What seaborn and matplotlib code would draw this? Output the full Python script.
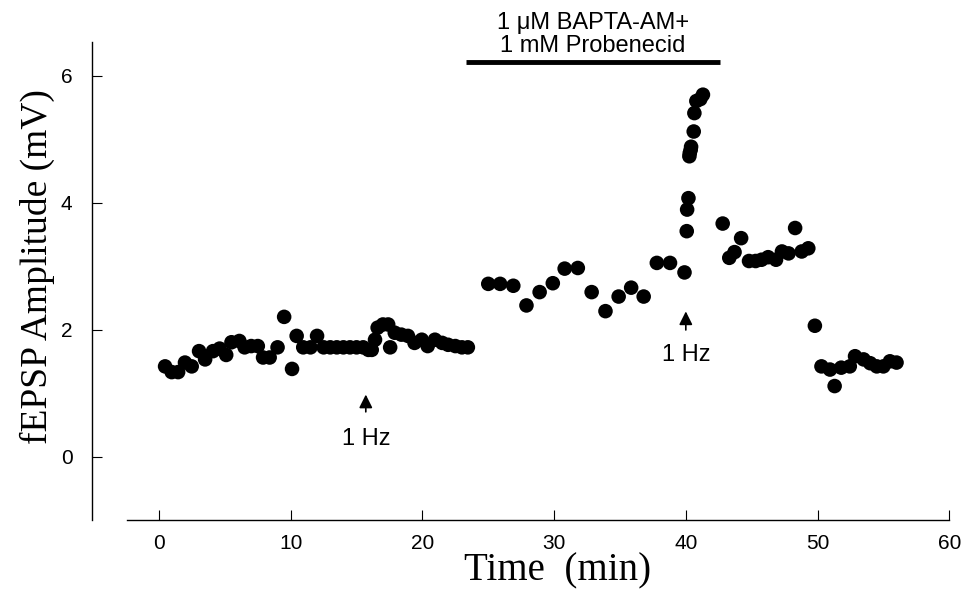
import matplotlib
matplotlib.use("Agg")
import matplotlib.pyplot as plt
import seaborn as sns
import pandas as pd

# Data
time_min = [0.46, 0.96, 1.45, 1.97, 2.48, 3.04, 3.5, 4.1, 4.6, 5.1, 5.5, 6.1, 6.5, 7.0, 7.5,
            7.9, 8.4, 9.0, 9.5, 10.1, 10.45, 10.95, 11.5, 12.0, 12.5, 13.0, 13.5, 14.0, 14.5,
            15.0, 15.5, 15.9, 16.15, 16.4, 16.6, 17.0, 17.4, 17.55, 17.9, 18.4, 18.9, 19.4,
            19.95, 20.4, 20.95, 21.5, 21.95, 22.5, 23.0, 23.45,
            25.0, 25.9, 26.9, 27.9, 28.9, 29.9, 30.8, 31.8, 32.85, 33.9, 34.9, 35.85, 36.8,
            37.8, 38.8, 39.9,
            40.07, 40.1, 40.2, 40.27, 40.3, 40.37, 40.4, 40.6, 40.65, 40.8, 41.1, 41.3,
            42.8, 43.3, 43.7, 44.2, 44.8, 45.3, 45.75, 46.25, 46.85, 47.3, 47.8, 48.3, 48.8,
            49.3, 49.8, 50.3, 50.95, 51.3, 51.8, 52.45, 52.85, 53.5, 54.0, 54.5, 55.0, 55.5,
            56.0]
amplitude_mv = [1.42, 1.33, 1.33, 1.48, 1.42, 1.66, 1.53, 1.66, 1.70, 1.60, 1.80, 1.82, 1.72,
                1.74, 1.74, 1.56, 1.56, 1.72, 2.20, 1.38, 1.90, 1.72, 1.72, 1.90, 1.72, 1.72,
                1.72, 1.72, 1.72, 1.72, 1.72, 1.68, 1.68, 1.84, 2.03, 2.08, 2.08, 1.72, 1.95,
                1.92, 1.90, 1.79, 1.84, 1.74, 1.84, 1.79, 1.76, 1.74, 1.72, 1.72,
                2.72, 2.72, 2.69, 2.38, 2.59, 2.73, 2.96, 2.97, 2.59, 2.29, 2.52, 2.66, 2.52,
                3.05, 3.05, 2.90,
                3.55, 3.89, 4.07, 4.73, 4.78, 4.83, 4.88, 5.12, 5.41, 5.60, 5.63, 5.70,
                3.67, 3.13, 3.22, 3.44, 3.08, 3.08, 3.10, 3.14, 3.10, 3.23, 3.20, 3.60, 3.23,
                3.28, 2.06, 1.42, 1.37, 1.11, 1.40, 1.42, 1.58, 1.53, 1.47, 1.42, 1.42, 1.50,
                1.48]

x_ticks = [0, 10, 20, 30, 40, 50, 60]
y_ticks = [0, 2, 4, 6]

drug_bar = [23.3, 42.6]
drug_label = "1 \u03bcM BAPTA-AM+\n1 mM Probenecid"
stim_times = [15.7, 40.0]
stim_label = "1 Hz"

df = pd.DataFrame({"Time": time_min, "Amp": amplitude_mv})

sns.set_theme(style="white")
plt.rcParams["font.family"] = ["Liberation Sans", "DejaVu Sans"]

fig = plt.figure(figsize=(9.65, 5.89), dpi=100)
W, H = 965, 589
ax = fig.add_axes([92 / W, (H - 520) / H, 863 / W, 478 / H])

sns.scatterplot(data=df, x="Time", y="Amp", ax=ax, color="black", s=110,
                edgecolor="none", linewidth=0, legend=False)

ax.set_xlim(-5.09, 60.44)
ax.set_ylim(-1.0, 6.53)
ax.set_xticks(x_ticks)
ax.set_yticks(y_ticks)
ax.tick_params(axis="both", which="major", bottom=True, left=True, direction="in",
               length=7, width=0.8, color="black", labelsize=15, labelcolor="black")
ax.tick_params(axis="x", pad=10)
ax.tick_params(axis="y", pad=14)
for side in ["top", "right"]:
    ax.spines[side].set_visible(False)
for side in ["left", "bottom"]:
    ax.spines[side].set_color("black")
    ax.spines[side].set_linewidth(1.0)
ax.spines["bottom"].set_bounds(-2.4, 60.0)
ax.spines["left"].set_bounds(-1.0, 6.53)

ax.set_xlabel("Time  (min)", family=["Liberation Serif", "DejaVu Serif"], fontsize=28,
              color="black", labelpad=0)
ax.xaxis.label.set_x(0.54)
ax.set_ylabel("fEPSP Amplitude (mV)", family=["Liberation Serif", "DejaVu Serif"],
              fontsize=27, color="black", labelpad=4)
ax.yaxis.label.set_y(0.53)

# Drug application bar
ax.plot(drug_bar, [6.22, 6.22], color="black", linewidth=3.5, solid_capstyle="butt",
        clip_on=False)
ax.text(sum(drug_bar) / 2, 6.30, drug_label, ha="center", va="bottom", fontsize=17,
        color="black", linespacing=1.05, clip_on=False)

# Stimulation arrows
ax.annotate("", xy=(stim_times[0], 1.02), xytext=(stim_times[0], 0.66),
            arrowprops=dict(arrowstyle="-|>", color="black", lw=1.2, mutation_scale=20))
ax.text(stim_times[0], 0.27, stim_label, ha="center", va="center", fontsize=17, color="black")
ax.annotate("", xy=(stim_times[1], 2.33), xytext=(stim_times[1], 1.95),
            arrowprops=dict(arrowstyle="-|>", color="black", lw=1.2, mutation_scale=20))
ax.text(stim_times[1], 1.6, stim_label, ha="center", va="center", fontsize=17, color="black")

fig.savefig("out.png", dpi=100, facecolor="white")
